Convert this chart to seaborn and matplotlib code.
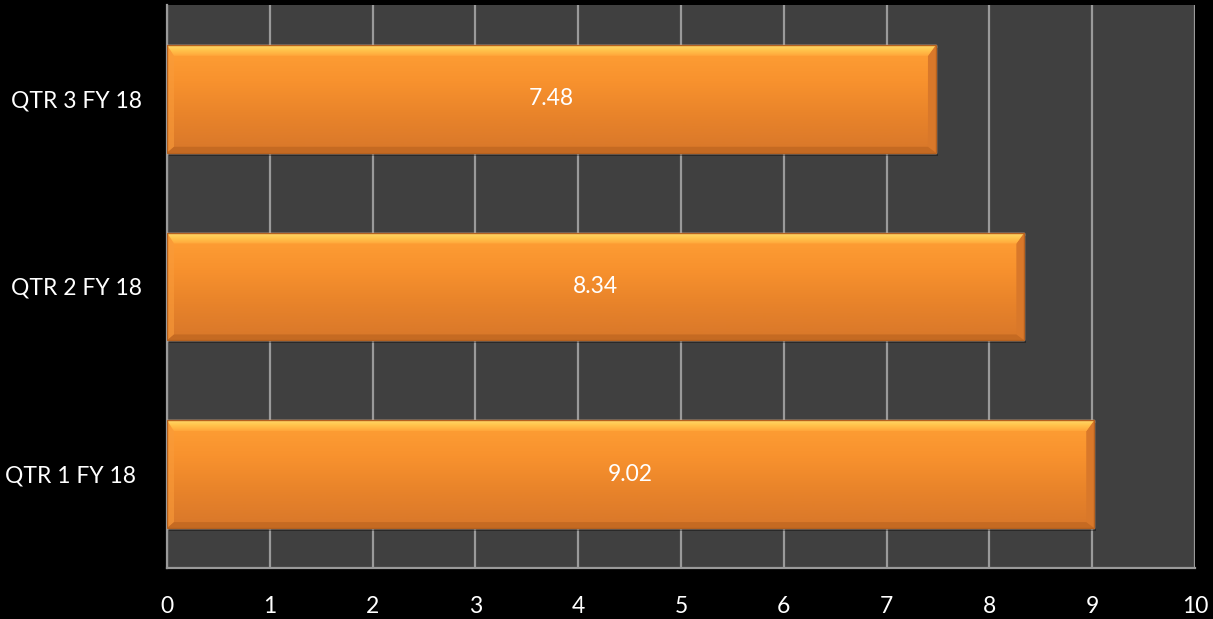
import numpy as np
import pandas as pd
import matplotlib
matplotlib.use("Agg")
import matplotlib.pyplot as plt
from matplotlib.colors import LinearSegmentedColormap
from matplotlib.patches import Polygon
import seaborn as sns

# Quarterly figures
quarters = ["QTR 1 FY 18 ", "QTR 2 FY 18", "QTR 3 FY 18"]
scores = [9.02, 8.34, 7.48]
x_ticks = [0, 1, 2, 3, 4, 5, 6, 7, 8, 9, 10]

df = pd.DataFrame({"quarter": quarters, "score": scores})
order = quarters[::-1]

sns.set_theme(style="dark")
plt.rcParams["font.family"] = ["Lato", "DejaVu Sans"]

fig = plt.figure(figsize=(12.13, 6.19), dpi=100, facecolor="black")
ax = fig.add_axes([167 / 1213, 51 / 619, 1028 / 1213, 563 / 619])
ax.set_facecolor("#404040")

sns.barplot(data=df, x="score", y="quarter", order=order, orient="h",
            color="#F7922F", width=0.575, ax=ax, saturation=1, zorder=3)

ax.set_xlim(0, 10)
ax.set_ylim(2.5, -0.5)
ax.set_xticks(x_ticks)
ax.set_xticklabels([str(t) for t in x_ticks])
ax.grid(axis="x", color="#9A9A9A", linewidth=1.6, zorder=0)
ax.grid(axis="y", visible=False)
ax.set_axisbelow(True)
for side in ["top", "right"]:
    ax.spines[side].set_visible(False)
for side in ["left", "bottom"]:
    ax.spines[side].set_color("#9A9A9A")
    ax.spines[side].set_linewidth(1.6)
ax.tick_params(axis="both", length=0, colors="white", labelsize=16.5)
ax.tick_params(axis="y", pad=18)
ax.tick_params(axis="x", pad=20)
ax.set_xlabel("")
ax.set_ylabel("")

# pixel sizes in data units
ux = 10 / 1028.0
uy = 1 / 188.0

body = LinearSegmentedColormap.from_list(
    "body", ["#FFA035", "#F8922E", "#E8832A", "#D8772A"])
top_cmap = LinearSegmentedColormap.from_list(
    "top", ["#FFDA6A", "#FFC24A", "#FFA53A"])

for patch in list(ax.patches):
    x0, y0 = patch.get_x(), patch.get_y()
    w, h = patch.get_width(), patch.get_height()
    x1, y1 = x0 + w, y0 + h  # y0 is top (inverted axis), y1 is bottom

    # soft drop shadow
    ax.add_patch(plt.Rectangle((x0 + 2 * ux, y0 + 3 * uy), w, h,
                               facecolor="black", alpha=0.35, zorder=2.5,
                               edgecolor="none"))

    # vertical gradient across the bar body
    grad = np.linspace(0, 1, 256).reshape(-1, 1)
    im = ax.imshow(grad, cmap=body, aspect="auto",
                   extent=(x0, x1, y1, y0), zorder=3.2, origin="upper")
    im.set_clip_path(patch)

    bt, bs, bb = 11 * uy, 8 * ux, 6 * uy
    bl = 7 * ux
    # left bevel (subtle)
    ax.add_patch(Polygon([(x0, y0), (x0 + bl, y0 + bt), (x0 + bl, y1 - bb), (x0, y1)],
                         closed=True, facecolor="#F99B3A", alpha=0.6,
                         edgecolor="none", zorder=3.3))
    # right bevel
    ax.add_patch(Polygon([(x1, y0), (x1, y1), (x1 - bs, y1 - bb), (x1 - bs, y0 + bt)],
                         closed=True, facecolor="#D9782A", edgecolor="none", zorder=3.4))
    # bottom bevel
    ax.add_patch(Polygon([(x0, y1), (x1, y1), (x1 - bs, y1 - bb), (x0 + bl, y1 - bb)],
                         closed=True, facecolor="#C56A22", edgecolor="none", zorder=3.4))
    # top bevel with its own highlight gradient
    top_poly = Polygon([(x0, y0), (x1, y0), (x1 - bs, y0 + bt), (x0 + bl, y0 + bt)],
                       closed=True, facecolor="none", edgecolor="none", zorder=3.5)
    ax.add_patch(top_poly)
    tim = ax.imshow(grad, cmap=top_cmap, aspect="auto",
                    extent=(x0, x1, y0 + bt, y0), zorder=3.5, origin="upper")
    tim.set_clip_path(top_poly)
    # outline edge
    ax.add_patch(plt.Rectangle((x0, y0), w, h, facecolor="none",
                               edgecolor="#B5611F", linewidth=1.0, zorder=3.6))
    patch.set_facecolor("none")

# value labels centred on each bar
for cat, val in zip(quarters, scores):
    ypos = order.index(cat)
    ax.text(val / 2, ypos, f"{val:.2f}", ha="center", va="center",
            color="white", fontsize=16.5, zorder=5)

fig.savefig("out.png", dpi=100, facecolor="black")
